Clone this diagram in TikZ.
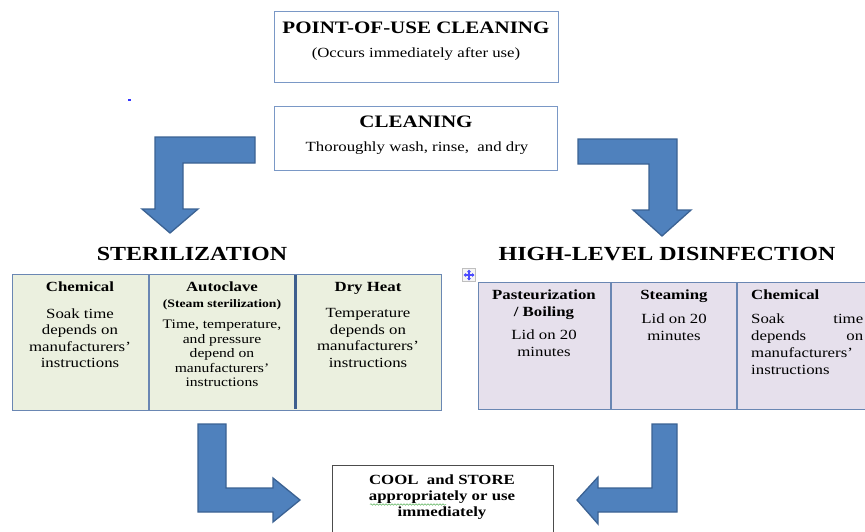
\documentclass[tikz,border=0pt]{standalone}
\usepackage{fontspec}
\setmainfont[FakeStretch=1.2]{Liberation Serif}
\usetikzlibrary{decorations.pathmorphing}

\definecolor{frameblue}{HTML}{7A98C6}
\definecolor{arrowfill}{HTML}{4F81BD}
\definecolor{arrowline}{HTML}{3B6293}
\definecolor{sterfill}{HTML}{EBF0DF}
\definecolor{hldfill}{HTML}{E6E0EC}
\definecolor{gridline}{HTML}{6A87B3}
\definecolor{gridbold}{HTML}{3E5F8E}
\definecolor{spellgreen}{HTML}{5DB35D}

\newcommand{\fsz}[2]{\fontsize{#1}{#2}\selectfont}

\tikzset{
  box/.style={draw=frameblue, line width=1.2pt, fill=white, inner sep=0pt},
  bigarrow/.style={fill=arrowfill, draw=arrowline, line width=1.3pt, line join=miter},
  tablebox/.style={draw=gridline, line width=1.2pt, inner sep=0pt},
  txt/.style={inner sep=0pt, align=center, text=black},
  headtxt/.style={txt, font=\fsz{20}{24}\bfseries},
  titletxt/.style={txt, font=\fsz{17.5}{20}\bfseries},
  subtxt/.style={txt, font=\fsz{14}{17}},
  cellhead/.style={txt, anchor=north, font=\fsz{14}{17}\bfseries},
  cellbody/.style={txt, anchor=north, font=\fsz{14}{16.5}},
}

\begin{document}
\begin{tikzpicture}[x=1pt, y=-1pt]
\useasboundingbox (0,0) rectangle (865,531);
\clip (0,0) rectangle (865,531);

% --- top boxes ---
\node[box, minimum width=284pt, minimum height=71pt, anchor=north west] (pou) at (274,11) {};
\node[titletxt] (pouT) at (416,27.5) {POINT-OF-USE CLEANING};
\node[subtxt] (pouS) at (416,54) {(Occurs immediately after use)};

\node[box, minimum width=283pt, minimum height=64pt, anchor=north west] (clean) at (274,106) {};
\node[titletxt] (cleanT) at (416,122) {CLEANING};
\node[subtxt] (cleanS) at (417,148) {Thoroughly wash, rinse,\ \ and dry};

% stray mark
\fill[blue!80] (128,99) rectangle (131,101);

% --- bent arrows from CLEANING ---
\draw[bigarrow] (155,137) -- (255,137) -- (255,163) -- (183,163) -- (183,209)
  -- (198,209) -- (170,233) -- (142,209) -- (155,209) -- cycle;
\draw[bigarrow] (578,139) -- (677,139) -- (677,210) -- (691,210) -- (662,236)
  -- (633,210) -- (649,210) -- (649,164) -- (578,164) -- cycle;

% --- section headings ---
\node[headtxt] (ster) at (192,254) {STERILIZATION};
\node[headtxt] (hld) at (667,254) {HIGH-LEVEL DISINFECTION};

% --- sterilization table ---
\node[tablebox, fill=sterfill, minimum width=429pt, minimum height=136pt, anchor=north west] (stertab) at (12,274) {};
\draw[gridline, line width=1.2pt] (149,274) -- (149,410);
\draw[gridbold, line width=3pt] (295,275) -- (295,409);

\node[cellhead] (s1h) at (80,282) {Chemical};
\node[cellbody] (s1b) at (80,308.5) {Soak time\\depends on\\manufacturers'\\instructions};

\node[cellhead] (s2h) at (222,282) {Autoclave};
\node[txt, anchor=north, font=\fsz{11.4}{13}\bfseries] (s2s) at (222,299.5) {(Steam sterilization)};
\node[txt, anchor=north, font=\fsz{13}{14.5}] (s2b) at (222,320) {Time, temperature,\\and pressure\\depend on\\manufacturers'\\instructions};

\node[cellhead] (s3h) at (368,282) {Dry Heat};
\node[cellbody] (s3b) at (368,308.5) {Temperature\\depends on\\manufacturers'\\instructions};

% --- high-level disinfection table ---
\node[draw=black!25, fill=black!4, line width=0.6pt, minimum size=13pt, inner sep=0pt] (mv) at (469,275) {};
\draw[blue!70, line width=1.1pt] (464.5,275) -- (473.5,275) (469,270.5) -- (469,279.5);
\fill[blue!70] (463.5,275) -- (466,273) -- (466,277) -- cycle
               (474.5,275) -- (472,273) -- (472,277) -- cycle
               (469,269.5) -- (467,272) -- (471,272) -- cycle
               (469,280.5) -- (467,278) -- (471,278) -- cycle;

\node[tablebox, fill=hldfill, minimum width=410pt, minimum height=127pt, anchor=north west] (hldtab) at (478,282) {};
\draw[gridline, line width=1.2pt] (611,282) -- (611,409);
\draw[gridline, line width=1.2pt] (737,282) -- (737,409);

\node[cellhead] (h1h) at (544,290) {Pasteurization\\/ Boiling};
\node[cellbody, font=\fsz{14}{17}] (h1b) at (544,330) {Lid on 20\\minutes};

\node[cellhead] (h2h) at (674,290) {Steaming};
\node[cellbody, font=\fsz{14}{17}] (h2b) at (674,314) {Lid on 20\\minutes};

\node[cellhead, anchor=north west, align=left] (h3h) at (751,290) {Chemical};
\node[txt, anchor=north west, align=left, font=\fsz{14}{16.7}] (h3b) at (751,314)
  {\hbox to 112pt{Soak\hfill time}\\\hbox to 112pt{depends\hfill on}\\manufacturers'\\instructions};

% --- bent arrows to COOL and STORE ---
\draw[bigarrow] (198,424) -- (226,424) -- (226,488) -- (273,488) -- (273,478)
  -- (300,500) -- (273,522) -- (273,512) -- (198,512) -- cycle;
\draw[bigarrow] (652,424) -- (677,424) -- (677,512) -- (598,512) -- (598,524)
  -- (577,500) -- (598,477) -- (598,488) -- (652,488) -- cycle;

% --- final box ---
\node[box, line width=1pt, draw=black!70, minimum width=221pt, minimum height=80pt, anchor=north west] (cool) at (332,465) {};
\node[txt, anchor=north, font=\fsz{14}{16}\bfseries] (coolT) at (442,475)
  {COOL\ \ and STORE\\appropriately or use\\immediately};
\draw[spellgreen, line width=0.5pt, decorate,
  decoration={snake, amplitude=0.8pt, segment length=3pt}] (370,504.5) -- (446,504.5);

\end{tikzpicture}
\end{document}
